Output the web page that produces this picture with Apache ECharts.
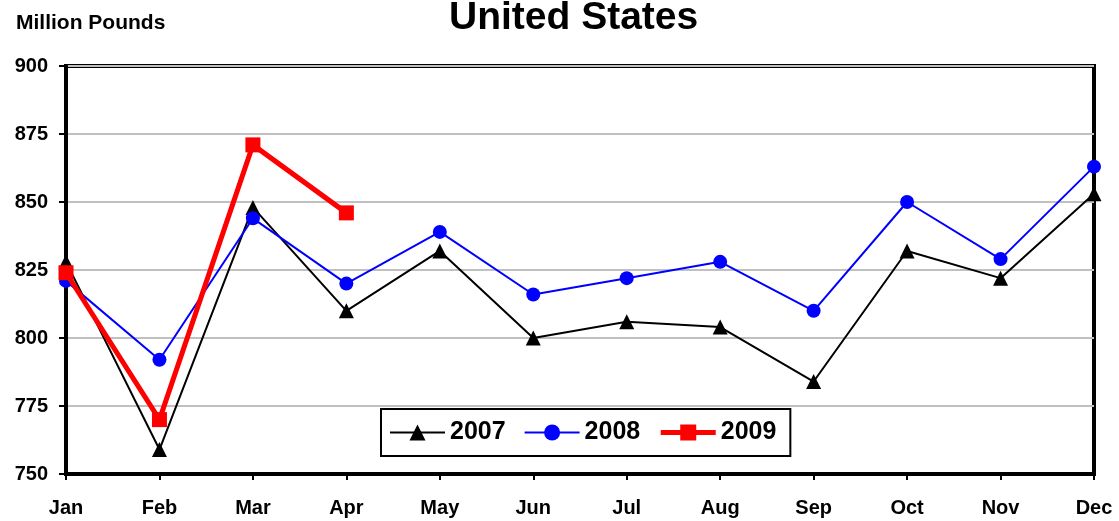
<!DOCTYPE html>
<html>
<head>
<meta charset="utf-8">
<script src="https://cdn.jsdelivr.net/npm/echarts@6/dist/echarts.min.js"></script>
<style>html,body{margin:0;padding:0;background:#fff;}#c{width:1119px;height:521px;}</style>
</head>
<body>
<div id="c"></div>
<script>
const months = ['Jan','Feb','Mar','Apr','May','Jun','Jul','Aug','Sep','Oct','Nov','Dec'];
const s2007 = [828, 759, 848, 810, 832, 800, 806, 804, 784, 832, 822, 853];
const s2008 = [821, 792, 844, 820, 839, 816, 822, 828, 810, 850, 829, 863];
const s2009 = [824, 770, 871, 846];
const yTicks = [750, 775, 800, 825, 850, 875, 900];

const font = '"Liberation Sans", Arial, sans-serif';
const chart = echarts.init(document.getElementById('c'));
chart.setOption({
  backgroundColor: '#fff',
  animation: false,
  title: [{
    text: 'United States', left: 444, top: -6,
    textStyle: {fontFamily: font, fontSize: 39, fontWeight: 'bold', color: '#000'}
  }, {
    text: 'Million Pounds', left: 11, top: 8,
    textStyle: {fontFamily: font, fontSize: 21, fontWeight: 'bold', color: '#000'}
  }],
  grid: {left: 66, right: 25, top: 66, bottom: 47, show: true, borderColor: '#000', borderWidth: 4, backgroundColor: 'transparent'},
  legend: {
    left: 381, top: 409, orient: 'horizontal',
    backgroundColor: '#fff', borderColor: '#000', borderWidth: 2,
    padding: [11, 14, 11, 8], itemGap: 18, itemWidth: 55, itemHeight: 20,
    textStyle: {fontFamily: font, fontSize: 25, fontWeight: 'bold', color: '#000'},
    data: [
      {name: '2007', lineStyle: {width: 2}},
      {name: '2008', lineStyle: {width: 2}},
      {name: '2009', lineStyle: {width: 5}}
    ]
  },
  xAxis: {
    type: 'category', data: months, boundaryGap: false,
    axisLine: {lineStyle: {color: '#000', width: 4}},
    axisTick: {show: true, length: 6, lineStyle: {color: '#000', width: 2}, alignWithLabel: true},
    axisLabel: {fontFamily: font, fontSize: 20, fontWeight: 'bold', color: '#000', margin: 24},
    splitLine: {show: false}
  },
  yAxis: {
    type: 'value', min: yTicks[0], max: yTicks[yTicks.length - 1], interval: 25,
    axisLine: {show: true, lineStyle: {color: '#000', width: 4}},
    axisTick: {show: true, length: 7, lineStyle: {color: '#000', width: 2}},
    axisLabel: {fontFamily: font, fontSize: 20, fontWeight: 'bold', color: '#000', margin: 18},
    splitLine: {show: true, lineStyle: {color: '#c0c0c0', width: 2}}
  },
  series: [{
    name: '2007', type: 'line', data: s2007,
    symbol: 'triangle', symbolSize: 15,
    lineStyle: {color: '#000', width: 2}, itemStyle: {color: '#000'}, z: 3
  }, {
    name: '2008', type: 'line', data: s2008,
    symbol: 'circle', symbolSize: 14,
    lineStyle: {color: '#0000ff', width: 2}, itemStyle: {color: '#0000ff'}, z: 4
  }, {
    name: '2009', type: 'line', data: s2009,
    symbol: 'rect', symbolSize: 15,
    lineStyle: {color: '#ff0000', width: 5}, itemStyle: {color: '#ff0000'}, z: 5
  }]
});
</script>
</body>
</html>
